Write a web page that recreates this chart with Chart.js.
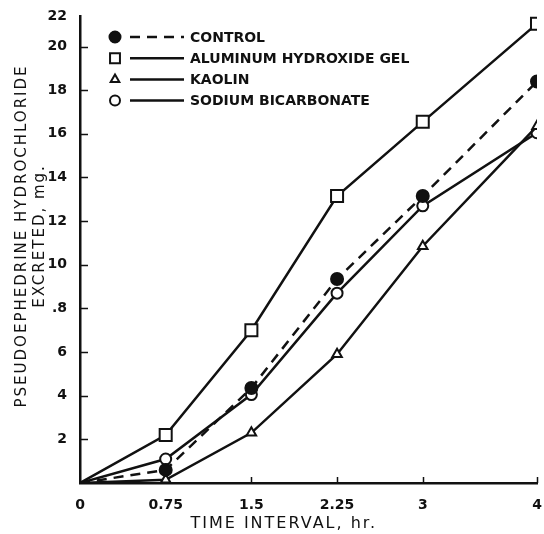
<!DOCTYPE html>
<html>
<head>
<meta charset="utf-8">
<script src="https://cdn.jsdelivr.net/npm/chart.js@4.4.1/dist/chart.umd.min.js"></script>
<style>
  html, body { margin: 0; padding: 0; background: #fff; }
  canvas { display: block; }
</style>
</head>
<body>
<canvas id="excretion" width="544" height="534"></canvas>
<script>
"use strict";

// hours after dose
const hours = [0, 0.75, 1.5, 2.25, 3, 4];

// mg excreted
const control = [0, 0.6, 4.35, 9.35, 13.15, 18.4];
const aluminumGel = [0, 2.2, 7.0, 13.15, 16.55, 21.05];
const kaolin = [0, 0.15, 2.3, 5.9, 10.85, 16.35];
const sodiumBicarb = [0, 1.1, 4.05, 8.7, 12.7, 16.05];

const seriesNames = ["CONTROL", "ALUMINUM HYDROXIDE GEL", "KAOLIN", "SODIUM BICARBONATE"];

const xTicks = [0, 0.75, 1.5, 2.25, 3, 4];
const yTicks = [2, 4, 6, 8, 10, 12, 14, 16, 18, 20, 22];
const yTickText = ["2", "4", "6", ".8", "10", "12", "14", "16", "18", "20", "22"];
const yTop = 21.4; // the "22" label sits at the top end of the axis

const ink = "#111";
const family = "'DejaVu Sans', sans-serif";

function points(values) {
  return values.map((v, i) => ({ x: hours[i], y: v }));
}

function series(label, values, extra) {
  return Object.assign({
    label: label,
    data: points(values),
    borderColor: ink,
    borderWidth: 2.5,
    pointBorderColor: ink,
    pointBorderWidth: 2,
    pointBackgroundColor: "#fff",
    pointRadius: (c) => (c.dataIndex === 0 ? 0 : extra.size),
    tension: 0,
  }, extra);
}

// letter spaced axis titles
const spacedTitles = {
  id: "spacedTitles",
  beforeDraw(chart) {
    Object.values(chart.scales).forEach((s) => {
      if (s._spaced) return;
      const orig = s.drawTitle.bind(s);
      s.drawTitle = function () {
        const c = this.ctx;
        c.save();
        c.letterSpacing = "2px";
        orig();
        c.restore();
      };
      s._spaced = true;
    });
  },
};

// tick marks that point into the plot
const innerTicks = {
  id: "innerTicks",
  beforeDatasetsDraw(chart) {
    const { ctx, scales } = chart;
    const x = scales.x, y = scales.y;
    ctx.save();
    ctx.strokeStyle = ink;
    ctx.lineWidth = 1.5;
    ctx.beginPath();
    yTicks.forEach((v) => {
      if (v >= yTop) return;
      const py = Math.round(y.getPixelForValue(v)) + 0.5;
      ctx.moveTo(x.left, py);
      ctx.lineTo(x.left + 8, py);
    });
    xTicks.forEach((v) => {
      if (v === 0) return;
      const px = Math.round(x.getPixelForValue(v)) + 0.5;
      ctx.moveTo(px, y.bottom);
      ctx.lineTo(px, y.bottom - 6);
    });
    ctx.stroke();
    ctx.restore();
  },
};

// legend: marker, line sample, name
const legendRows = {
  id: "legendRows",
  afterDraw(chart) {
    const ctx = chart.ctx;
    ctx.save();
    chart.data.datasets.forEach((ds, i) => {
      const y = 37 + i * 21.2;
      ctx.strokeStyle = ink;
      ctx.lineWidth = 2.5;
      ctx.setLineDash(ds.borderDash || []);
      ctx.beginPath();
      ctx.moveTo(130, y);
      ctx.lineTo(184, y);
      ctx.stroke();
      ctx.setLineDash([]);
      ctx.fillStyle = ds.pointBackgroundColor;
      ctx.lineWidth = 2;
      Chart.helpers.drawPoint(ctx, {
        pointStyle: ds.pointStyle,
        radius: ds.legendSize,
        rotation: 0,
        borderWidth: 2,
      }, 115, y);
      ctx.fillStyle = ink;
      ctx.font = "bold 14px " + family;
      ctx.textBaseline = "middle";
      ctx.fillText(ds.label, 190, y + 1);
    });
    ctx.restore();
  },
};

new Chart(document.getElementById("excretion"), {
  type: "line",
  data: {
    datasets: [
      series(seriesNames[0], control, {
        borderDash: [10, 7], pointStyle: "circle", size: 6, legendSize: 5.5,
        pointBackgroundColor: ink,
      }),
      series(seriesNames[1], aluminumGel, { pointStyle: "rect", size: 8.5, legendSize: 7 }),
      series(seriesNames[2], kaolin, { pointStyle: "triangle", size: 5.5, legendSize: 5 }),
      series(seriesNames[3], sodiumBicarb, { pointStyle: "circle", size: 5.5, legendSize: 5 }),
    ],
  },
  options: {
    responsive: false,
    animation: false,
    devicePixelRatio: 1,
    layout: { autoPadding: false, padding: { top: 16, right: 7, left: 0, bottom: 0 } },
    plugins: {
      legend: { display: false },
      tooltip: { enabled: false },
    },
    scales: {
      x: {
        type: "linear",
        min: 0,
        max: 4,
        afterBuildTicks: (s) => { s.ticks = xTicks.map((v) => ({ value: v })); },
        afterFit: (s) => { s.height = 51; s.paddingLeft = 0; s.paddingRight = 0; },
        grid: { display: false, drawTicks: false },
        border: { color: ink, width: 2.5 },
        ticks: {
          color: ink,
          font: { family: family, size: 14, weight: "bold" },
          padding: 14,
          maxRotation: 0,
          autoSkip: false,
          callback: (v) => String(v),
        },
        title: {
          display: true,
          text: "TIME INTERVAL, hr.       ",
          color: ink,
          font: { family: family, size: 16 },
          padding: { top: 0, bottom: 1 },
        },
      },
      y: {
        min: 0,
        max: yTop,
        afterBuildTicks: (s) => { s.ticks = yTicks.map((v) => ({ value: Math.min(v, yTop) })); },
        afterFit: (s) => { s.width = 80; s.paddingTop = 0; s.paddingBottom = 0; },
        grid: { display: false, drawTicks: false },
        border: { color: ink, width: 2.5 },
        ticks: {
          color: ink,
          font: { family: family, size: 14, weight: "bold" },
          padding: 13,
          autoSkip: false,
          callback: (v, i) => yTickText[i],
        },
        title: {
          display: true,
          text: ["    PSEUDOEPHEDRINE HYDROCHLORIDE", "    EXCRETED, mg."],
          color: ink,
          font: { family: family, size: 15, lineHeight: 1.2 },
          padding: { top: 13, bottom: 0 },
        },
      },
    },
  },
  plugins: [spacedTitles, innerTicks, legendRows],
});
</script>
</body>
</html>
